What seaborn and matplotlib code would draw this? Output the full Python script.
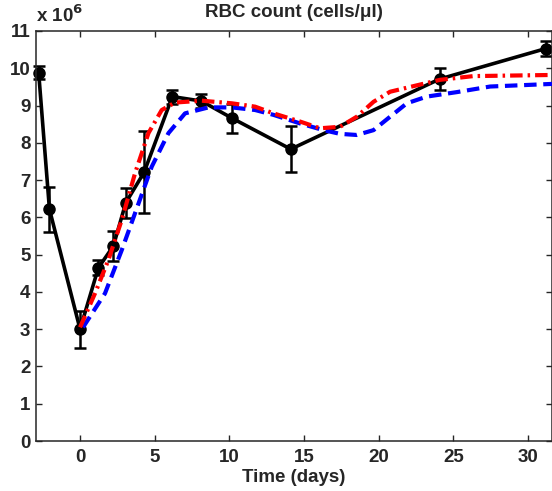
import numpy as np
import pandas as pd
import seaborn as sns
import matplotlib.pyplot as plt

# Datos medidos (recuento de glóbulos rojos, en unidades de 10^6 células/µl)
dias = [-2.77, -2.05, 0.0, 1.23, 2.23, 3.06, 4.29, 6.18, 8.13, 10.18, 14.11, 24.07, 31.2]
rbc = [9.88, 6.22, 3.0, 4.65, 5.23, 6.39, 7.21, 9.24, 9.12, 8.66, 7.83, 9.71, 10.53]
err = [0.17, 0.6, 0.5, 0.2, 0.4, 0.41, 1.1, 0.19, 0.19, 0.39, 0.61, 0.3, 0.2]

# Curva del modelo 1 (roja, punto y raya)
t_rojo = [0.0, 1.0, 1.9, 2.79, 3.68, 4.58, 5.47, 6.36, 8.15, 10.16, 11.72, 12.95,
          14.73, 16.07, 17.41, 18.53, 19.65, 20.76, 22.32, 24.11, 26.34, 31.6]
v_rojo = [3.05, 3.96, 4.86, 5.93, 7.18, 8.26, 8.88, 9.08, 9.13, 9.06, 8.97, 8.79,
          8.57, 8.39, 8.43, 8.70, 9.10, 9.37, 9.52, 9.69, 9.79, 9.82]

# Curva del modelo 2 (azul, discontinua)
t_azul = [0.2, 1.67, 2.79, 3.68, 4.8, 5.92, 7.03, 8.6, 10.16, 11.72, 12.95, 14.73,
          16.3, 17.41, 18.53, 19.65, 20.76, 21.88, 23.22, 25.23, 27.46, 31.6]
v_azul = [3.05, 3.96, 5.12, 6.11, 7.36, 8.26, 8.79, 8.95, 8.95, 8.88, 8.75, 8.52,
          8.34, 8.24, 8.21, 8.34, 8.70, 9.06, 9.24, 9.36, 9.51, 9.58]

df_rojo = pd.DataFrame({"t": t_rojo, "v": v_rojo})
df_azul = pd.DataFrame({"t": t_azul, "v": v_azul})

sns.set_style("ticks")
plt.rcParams['font.family'] = ['Liberation Sans', 'DejaVu Sans']
plt.rcParams['font.weight'] = 'bold'
plt.rcParams['axes.labelweight'] = 'bold'
plt.rcParams['axes.titleweight'] = 'bold'

fig = plt.figure(figsize=(5.52, 4.91), dpi=100)
ax = fig.add_axes([0.0652, 0.1018, 0.9348, 0.8351])

# Datos con barras de error
ax.errorbar(dias, rbc, yerr=err, color="black", lw=2.6, marker="o", ms=8,
            elinewidth=1.8, capsize=4, capthick=1.8, zorder=2, clip_on=False)

sns.lineplot(data=df_azul, x="t", y="v", ax=ax, color="#0000ff", lw=3,
             zorder=3).lines[-1].set_dashes([3, 1.6])
sns.lineplot(data=df_rojo, x="t", y="v", ax=ax, color="#ff0000", lw=3,
             zorder=4).lines[-1].set_dashes([3, 1.2, 0.6, 1.2])

ax.set_xlim(-2.95, 31.6)
ax.set_ylim(0, 11)
ax.set_xticks([0, 5, 10, 15, 20, 25, 30])
ax.set_yticks(range(0, 12))
ax.tick_params(direction="in", top=True, right=True, labelsize=13.5, width=1, length=4)
ax.tick_params(axis="y", pad=4)
ax.tick_params(axis="x", pad=6)
for lab in ax.get_xticklabels() + ax.get_yticklabels():
    lab.set_fontweight("bold")
for s in ax.spines.values():
    s.set_linewidth(1.1)

ax.set_xlabel("Time (days)", fontsize=13.5, labelpad=2)
ax.set_ylabel("")
ax.set_title("RBC count (cells/\u03bcl)", fontsize=13.5, pad=10)
ax.text(0.0, 1.012, "x 10$^{\\mathbf{6}}$", transform=ax.transAxes, fontsize=13.5,
        fontweight="bold", ha="left", va="bottom")

fig.savefig("out.png", dpi=100)
